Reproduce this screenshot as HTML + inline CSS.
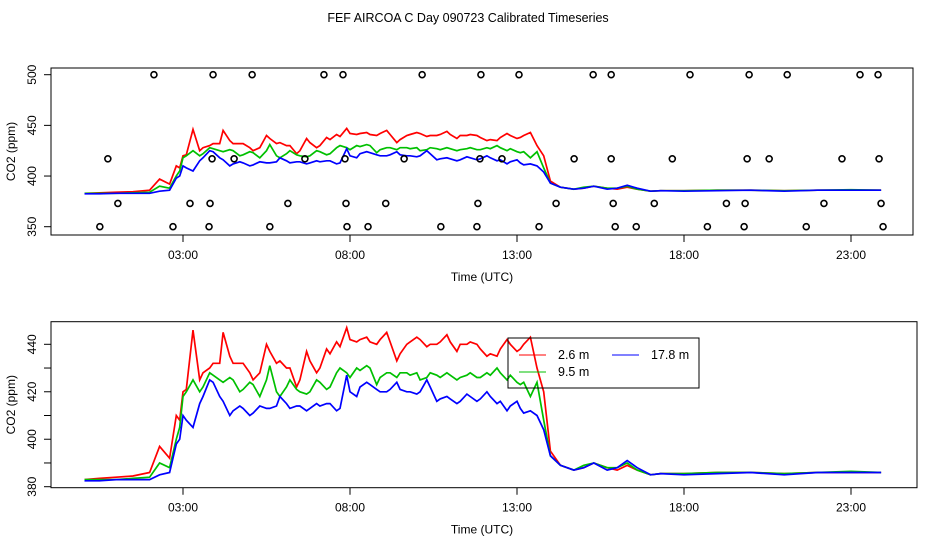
<!DOCTYPE html>
<html><head><meta charset="utf-8"><style>
html,body{margin:0;padding:0;background:#fff}
svg{display:block;font-family:"Liberation Sans",sans-serif}
</style></head><body>
<svg id="c" width="936" height="540" viewBox="0 0 936 540" xmlns="http://www.w3.org/2000/svg">
<text x="468" y="22" font-size="12.5" text-anchor="middle">FEF AIRCOA C  Day 090723  Calibrated Timeseries</text>
<g id="top"></g>
<g id="bot"></g>
</svg>
<script>
const times=[0.05,0.5,1.0,1.5,2.0,2.3,2.6,2.8,2.9,3.0,3.1,3.3,3.5,3.6,3.8,3.9,4.1,4.2,4.4,4.5,4.7,4.8,5.0,5.1,5.3,5.5,5.6,5.8,5.9,6.1,6.2,6.4,6.5,6.7,6.8,7.0,7.1,7.3,7.4,7.6,7.7,7.9,8.0,8.2,8.3,8.5,8.6,8.8,8.9,9.1,9.2,9.4,9.5,9.7,9.8,10.0,10.1,10.3,10.4,10.6,10.7,10.9,11.0,11.2,11.3,11.5,11.6,11.8,11.9,12.1,12.2,12.4,12.5,12.7,12.8,13.0,13.1,13.2,13.4,13.6,13.8,14.0,14.3,14.7,15.0,15.3,15.7,16.0,16.3,16.6,17.0,17.3,18,19,20,21,22,23,23.9];
const red=[383,383.5,384,384.5,386,397,392,410,408,420,421,446,425,428,430,432,432,445,435,432,432,432,428,425,428,440,437,432,433,430,430,422,425,437,433,428,430,438,436,441,439,447,442,441,442,443,441,440,442,445,441,433,436,440,441,443,442,439,440,440,441,444,441,437,440,440,441,440,438,435,436,435,438,442,440,437,438,440,443,430,420,395,389,387,388,390,388,387,389,387,385,385.5,385.5,386,386,385.5,386,386,386];
const green=[383,383,383,383.5,384,390,388,400,405,418,420,425,420,422,428,427,425,424,426,425,420,421,424,423,418,425,431,420,418,422,425,421,420,419,420,425,424,421,422,428,430,428,426,430,429,431,430,423,426,428,428,426,428,428,427,428,425,426,428,427,426,428,427,425,426,427,428,426,426,428,427,430,428,425,427,424,423,424,418,424,408,393,389,387,389,390,388,388,390,387,385,385.5,385.5,386,386,385.5,386,386.5,386];
const blue=[382.5,382.5,383,383,383,385,386,398,400,410,408,405,415,418,425,424,418,416,410,412,414,413,410,411,414,413,413,414,418,415,413,414,414,412,413,415,414,415,415,412,413,427,420,418,422,424,423,421,420,420,421,424,421,420,420,419,420,425,422,416,417,418,417,415,416,419,418,416,417,420,418,415,416,412,414,416,413,411,412,410,404,393,389,387,388,390,387,388,391,388,385,385.5,385,385.5,386,385,386,386,386];
const flag500=[2.13,3.90,5.07,7.22,7.79,10.16,11.92,13.06,15.28,15.82,18.18,19.95,21.09,23.27,23.81];
const flag417=[0.75,3.87,4.53,6.65,7.85,9.62,11.89,12.55,14.71,15.82,17.65,19.89,20.55,22.73,23.84];
const flag373=[1.05,3.21,3.81,6.14,7.88,9.07,11.83,14.17,15.88,17.11,19.27,19.83,22.19,23.9];
const flag350=[0.51,2.70,3.78,5.6,7.91,8.54,10.72,11.80,13.66,15.94,16.57,18.7,19.8,21.66,23.96];
const xTicks=[3,8,13,18,23];
const xTickLabels=["03:00","08:00","13:00","18:00","23:00"];
const topYTicks=[350,400,450,500];
const botYTicks=[380,390,400,410,420,430,440];
const botYLabels=[380,400,420,440];

const NS="http://www.w3.org/2000/svg";
function mk(p,t,a){const e=document.createElementNS(NS,t);for(const k in a)e.setAttribute(k,a[k]);p.appendChild(e);return e;}
const X=h=>82.8+h*33.4;

function panel(g,box,Y,yt,yl,isTop){
  const r=mk(g,'rect',{x:box.l,y:box.t,width:box.r-box.l,height:box.b-box.t,fill:'none',stroke:'#000','stroke-width':1});
  
  
  xTicks.forEach((h,i)=>{
    const l=mk(g,'line',{x1:X(h),x2:X(h),y1:box.b,y2:box.b+7,stroke:'#000'});
    
    
    const t=mk(g,'text',{x:X(h),y:box.b+24,'font-size':12,'text-anchor':'middle'});
    t.textContent=xTickLabels[i];
    
    
  });
  yt.forEach(v=>{
    const l=mk(g,'line',{x1:box.l-7,x2:box.l,y1:Y(v),y2:Y(v),stroke:'#000'});
    
    
  });
  yl.forEach(v=>{
    const t=mk(g,'text',{x:0,y:0,'font-size':12,'text-anchor':'middle',transform:`translate(36,${Y(v)}) rotate(-90)`});
    t.textContent=v;
    
    
  });
  const xt=mk(g,'text',{x:482,y:box.b+46,'font-size':12,'text-anchor':'middle'});
  xt.textContent='Time (UTC)';
  
  
  const ytl=mk(g,'text',{x:0,y:0,'font-size':12,'text-anchor':'middle',transform:`translate(15,${(box.t+box.b)/2}) rotate(-90)`});
  ytl.textContent='CO2 (ppm)';
  
  
  [[red,'#ff0000','series-2-6m'],[green,'#00c000','series-9-5m'],[blue,'#0000ff','series-17-8m']].forEach(([d,c,n])=>{
    const p=mk(g,'polyline',{points:times.map((h,i)=>X(h).toFixed(1)+','+Y(d[i]).toFixed(1)).join(' '),fill:'none',stroke:c,'stroke-width':1.7});
    
    
  });
  if(isTop){
    [[flag500,500],[flag417,417],[flag373,373],[flag350,350]].forEach(([arr,v])=>{
      arr.forEach(h=>{
        const c=mk(g,'circle',{cx:X(h),cy:Y(v),r:3,fill:'none',stroke:'#000','stroke-width':1.6});
        
        
      });
    });
  }
}
const topG=document.getElementById('top'), botG=document.getElementById('bot');
panel(topG,{l:51,r:913,t:68,b:235},v=>226.7-(v-350)*152/150,topYTicks,topYTicks,true);
panel(botG,{l:51,r:917,t:321.7,b:487.7},v=>486.7-(v-380)*142.4/60,botYTicks,botYLabels,false);

const lg=mk(botG,'g',{});


mk(lg,'rect',{x:508,y:338,width:191,height:50,fill:'none',stroke:'#000'});
[[519,355,'#ff0000','2.6 m'],[519,372,'#00c000','9.5 m'],[612,355,'#0000ff','17.8 m']].forEach(([x,y,c,s])=>{
  const l=mk(lg,'line',{x1:x,x2:x+27,y1:y,y2:y,stroke:c});
  
  
  const t=mk(lg,'text',{x:x+39,y:y+4,'font-size':12.5});
  t.textContent=s;
  
  
});
</script>
</body></html>
